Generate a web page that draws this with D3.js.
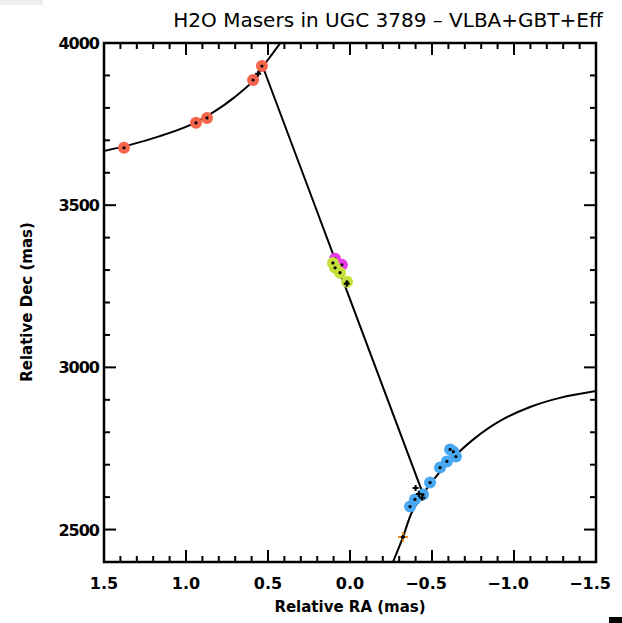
<!DOCTYPE html>
<html>
<head>
<meta charset="utf-8">
<script src="https://cdn.jsdelivr.net/npm/d3@7"></script>
<style>
 body { margin: 0; background: #fff; }
 text { font-family: "DejaVu Sans", sans-serif; }
</style>
</head>
<body>
<svg id="chart"></svg>
<script>
 // model curves (RA mas, Dec mas)
 let upperArc = [[1.5, 3667], [1.341, 3686], [1.159, 3713], [0.976, 3747], [0.823, 3790], [0.701, 3834], [0.591, 3883], [0.537, 3923], [0.47, 3969], [0.402, 4015]]
 let diskLine = [[0.531, 3926], [-0.445, 2610]]
 let lowerArc = [[-0.262, 2400], [-0.323, 2477], [-0.378, 2554], [-0.445, 2610], [-0.537, 2671], [-0.64, 2727], [-0.762, 2782], [-0.915, 2835], [-1.098, 2878], [-1.28, 2906], [-1.5, 2927]]

 // maser spots
 let redSpots = [[1.378, 3677], [0.939, 3754], [0.872, 3769], [0.591, 3886], [0.537, 3929]]
 let magentaSpots = [[0.091, 3335], [0.049, 3316]]
 let greenSpots = [[0.104, 3322], [0.091, 3307], [0.061, 3292], [0.018, 3264]]
 let blueSpots = [[-0.366, 2571], [-0.396, 2593], [-0.445, 2608], [-0.488, 2645], [-0.549, 2691], [-0.591, 2710], [-0.61, 2747], [-0.646, 2725], [-0.63, 2740]]
 let blackCrosses = [[-0.42, 2610], [-0.44, 2598], [-0.40, 2628], [0.02, 3258], [0.56, 3905]]
 let orangeCross = [[-0.323, 2477]]

 let xTickLabels = ["1.5", "1.0", "0.5", "0.0", "\u22120.5", "\u22121.0", "\u22121.5"]
 let xMajor = [1.5, 1.0, 0.5, 0.0, -0.5, -1.0, -1.5]
 let yMajor = [2500, 3000, 3500, 4000]

 width = 622
 height = 623
 var svg = d3.select("#chart").attr("width", width).attr("height", height)

 var x = d3.scaleLinear().domain([1.5, -1.5]).range([104, 596])
 var y = d3.scaleLinear().domain([2400, 4000]).range([562, 43])

 svg.append("rect").attr("x", 0).attr("y", 0).attr("width", 43).attr("height", 5).attr("fill", "#eeeeee")

 svg.append("clipPath").attr("id", "clip")
      .append("rect").attr("x", 104).attr("y", 43).attr("width", 492).attr("height", 519)

 var line = d3.line().x(d => x(d[0])).y(d => y(d[1])).curve(d3.curveCatmullRom.alpha(0.5))
 var model = svg.append("g").attr("clip-path", "url(#clip)")
 ;[upperArc, diskLine, lowerArc].forEach(c => {
      model.append("path").attr("d", line(c))
           .attr("fill", "none").attr("stroke", "#000").attr("stroke-width", 2)
 })

 var spots = svg.append("g").attr("clip-path", "url(#clip)")
 function drawSpots(data, color){
      spots.selectAll(null).data(data).enter().append("circle")
           .attr("cx", d => x(d[0])).attr("cy", d => y(d[1]))
           .attr("r", 6).attr("fill", color)
      spots.selectAll(null).data(data).enter().append("circle")
           .attr("cx", d => x(d[0])).attr("cy", d => y(d[1]))
           .attr("r", 1.6).attr("fill", "#000")
 }
 drawSpots(redSpots, "#f5644c")
 drawSpots(magentaSpots, "#e83ce8")
 drawSpots(greenSpots, "#c6df3a")
 drawSpots(blueSpots, "#48a8f2")

 function drawCross(data, color, s){
      data.forEach(d => {
           spots.append("path")
                .attr("d", `M${x(d[0]) - s},${y(d[1])}h${2 * s}M${x(d[0])},${y(d[1]) - s}v${2 * s}`)
                .attr("stroke", color).attr("stroke-width", 2)
      })
 }
 drawCross(blackCrosses, "#000", 3)
 drawCross(orangeCross, "#e8901c", 5)
 drawCross(orangeCross, "#000", 2)

 // axes: ticks point inward on all four sides
 var xMinor = d3.range(-15, 16).map(v => v / 10)
 var yMinor = d3.range(24, 41).map(v => v * 100)
 var ax = svg.append("g").attr("stroke", "#000").attr("stroke-width", 2)
 ax.selectAll(null).data(xMinor).enter().append("line")
      .attr("x1", d => x(d)).attr("x2", d => x(d))
      .attr("y1", 562).attr("y2", d => xMajor.includes(d) ? 550 : 556)
 ax.selectAll(null).data(xMinor).enter().append("line")
      .attr("x1", d => x(d)).attr("x2", d => x(d))
      .attr("y1", 43).attr("y2", d => xMajor.includes(d) ? 55 : 49)
 ax.selectAll(null).data(yMinor).enter().append("line")
      .attr("y1", d => y(d)).attr("y2", d => y(d))
      .attr("x1", 104).attr("x2", d => yMajor.includes(d) ? 116 : 110)
 ax.selectAll(null).data(yMinor).enter().append("line")
      .attr("y1", d => y(d)).attr("y2", d => y(d))
      .attr("x1", 596).attr("x2", d => yMajor.includes(d) ? 584 : 590)
 svg.append("rect").attr("x", 104).attr("y", 43).attr("width", 492).attr("height", 519)
      .attr("fill", "none").attr("stroke", "#000").attr("stroke-width", 2.5)

 svg.append("g").selectAll("text").data(xMajor).enter().append("text")
      .attr("x", (d, i) => x(d) - (i > 3 ? 6 : 0)).attr("y", 589)
      .attr("text-anchor", "middle").attr("font-size", 16).attr("font-weight", "bold")
      .text((d, i) => xTickLabels[i])
 svg.append("g").selectAll("text").data(yMajor).enter().append("text")
      .attr("x", 99).attr("y", d => y(d) + 6)
      .attr("text-anchor", "end").attr("font-size", 16).attr("font-weight", "bold")
      .attr("letter-spacing", -1)
      .text(d => d)

 svg.append("text").attr("x", 350).attr("y", 612).attr("text-anchor", "middle")
      .attr("font-size", 15).attr("font-weight", "bold").text("Relative RA (mas)")
 svg.append("text").attr("transform", "translate(32,302) rotate(-90)").attr("text-anchor", "middle")
      .attr("font-size", 15).attr("font-weight", "bold").text("Relative Dec (mas)")
 svg.append("text").attr("x", 388).attr("y", 27).attr("text-anchor", "middle")
      .attr("font-size", 20).text("H2O Masers in UGC 3789 \u2013 VLBA+GBT+Eff")

 svg.append("rect").attr("x", 609).attr("y", 617).attr("width", 13).attr("height", 6).attr("fill", "#000")
</script>
</body>
</html>
